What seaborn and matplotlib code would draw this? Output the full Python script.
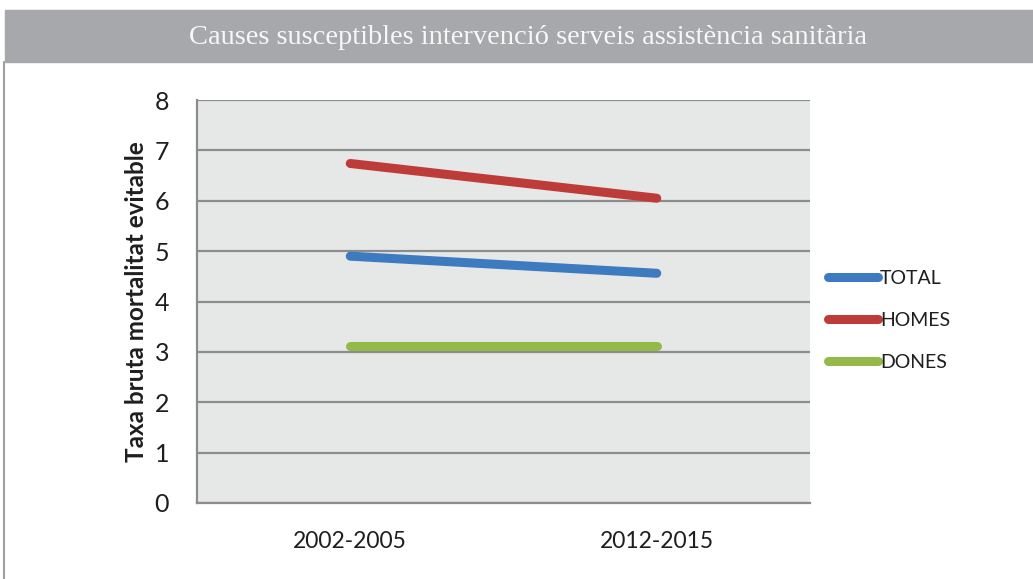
import matplotlib

matplotlib.use('Agg')
import matplotlib.pyplot as plt
import pandas as pd
import seaborn as sns
from matplotlib.lines import Line2D
from matplotlib.patches import Rectangle

PERIODS = ['2002-2005', '2012-2015']
SERIES = ['TOTAL', 'HOMES', 'DONES']
TOTAL = [4.90, 4.56]
HOMES = [6.74, 6.05]
DONES = [3.12, 3.12]

COLORS = {'TOTAL': '#3d7abf', 'HOMES': '#bd3c3a', 'DONES': '#93b948'}
BANNER = '#a7a8ab'
FACE = '#e6e7e7'
GRID = '#8c8c8c'
INK = '#1e1e1e'


def main() -> None:
    sns.set_theme(style='white')
    plt.rcParams['font.family'] = ['Lato', 'DejaVu Sans']

    df = pd.DataFrame(
        {
            'period': PERIODS * 3,
            'serie': [s for s in SERIES for _ in PERIODS],
            'value': TOTAL + HOMES + DONES,
        }
    )

    fig = plt.figure(figsize=(10.33, 5.79), dpi=100)
    ax = fig.add_axes((197 / 1033, 1 - 503 / 579, 613 / 1033, 403 / 579))

    # title banner and the frame line down the left side
    fig.patches.append(
        Rectangle((5 / 1033, 1 - 62 / 579), 1, 52 / 579,
                  transform=fig.transFigure, color=BANNER, zorder=0)
    )
    fig.add_artist(Line2D([4 / 1033, 4 / 1033], [0, 1 - 62 / 579],
                          transform=fig.transFigure, color='#a0a0a0', lw=1.5))
    fig.text(528 / 1033, 1 - 37 / 579,
             'Causes susceptibles intervenció serveis assistència sanitària',
             ha='center', va='center', color='#f7f7f7', fontsize=20.5,
             family='Liberation Serif')

    sns.lineplot(
        data=df, x='period', y='value', hue='serie', hue_order=SERIES,
        palette=COLORS, ax=ax, linewidth=6.5, solid_capstyle='round',
        legend=False, sort=False,
    )

    ax.set_facecolor(FACE)
    ax.set_xlim(-0.5, 1.5)
    ax.set_ylim(0, 8)
    ax.set_yticks(range(9))
    ax.yaxis.grid(True, color=GRID, linewidth=1.6)
    ax.set_axisbelow(True)
    for side in ('top', 'right'):
        ax.spines[side].set_visible(False)
    for side in ('left', 'bottom'):
        ax.spines[side].set_color(GRID)
        ax.spines[side].set_linewidth(1.6)
    ax.tick_params(axis='y', labelsize=18, colors=INK, pad=20, length=0)
    ax.tick_params(axis='x', labelsize=16.5, colors=INK, pad=20, length=0)
    ax.set_xlabel('')
    ax.set_ylabel('Taxa bruta mortalitat evitable', fontsize=17.5,
                  fontweight='bold', color=INK, labelpad=5)

    handles = [
        Line2D([], [], color=COLORS[s], lw=6.5, solid_capstyle='round')
        for s in SERIES
    ]
    fig.legend(
        handles, SERIES, loc='upper left',
        bbox_to_anchor=(810 / 1033, 1 - 252 / 579), frameon=False,
        fontsize=14, handlelength=2.6, handletextpad=0.1, labelspacing=1.3,
        labelcolor=INK,
    )

    fig.savefig('out.png', dpi=100, facecolor='white')
    plt.close(fig)


if __name__ == '__main__':
    main()
